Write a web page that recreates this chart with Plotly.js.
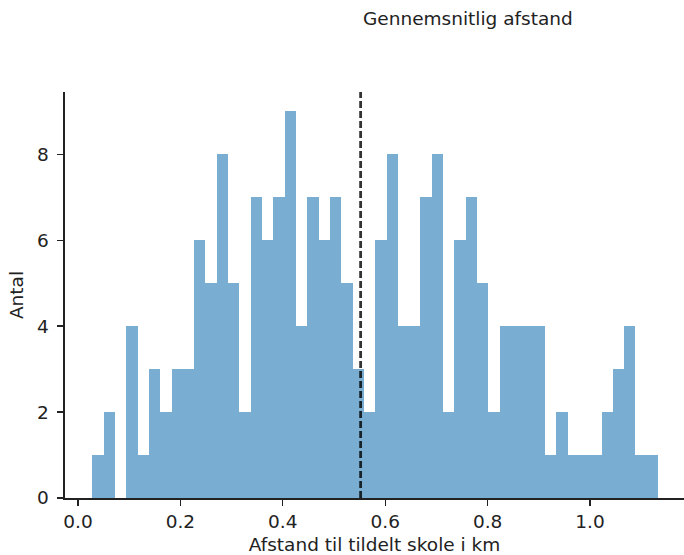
<!DOCTYPE html>
<html>
<head>
<meta charset="utf-8">
<script src="https://cdn.plot.ly/plotly-3.0.1.min.js"></script>
<style>html,body{margin:0;padding:0;background:#fff}#chart{width:684px;height:555px}</style>
</head>
<body>
<div id="chart"></div>
<script>
// Histogram counts (50 equal-width bins)
var counts = [1, 2, 0, 4, 1, 3, 2, 3, 3, 6,
              5, 8, 5, 2, 7, 6, 7, 9, 4, 7,
              6, 7, 5, 3, 2, 6, 8, 4, 4, 7,
              8, 2, 6, 7, 5, 2, 4, 4, 4, 4,
              1, 2, 1, 1, 1, 2, 3, 4, 1, 1];
var binStart = 0.028;      // km, left edge of first bin
var binWidth = 0.0221;     // km
var meanDistance = 0.552;  // km
var xTickVals = [0.0, 0.2, 0.4, 0.6, 0.8, 1.0];
var xTickText = ["0.0", "0.2", "0.4", "0.6", "0.8", "1.0"];
var yTickVals = [0, 2, 4, 6, 8];
var titleText = "Gennemsnitlig afstand";
var xLabel = "Afstand til tildelt skole i km";
var yLabel = "Antal";

var leftEdges = counts.map(function (c, i) { return binStart + i * binWidth; });

var font = {family: "DejaVu Sans, sans-serif", size: 18.5, color: "#222"};

var data = [{
  type: "bar",
  x: leftEdges,
  y: counts,
  width: binWidth,
  offset: 0,
  marker: {color: "rgba(31,119,180,0.6)", line: {width: 0}},
  hoverinfo: "x+y"
}];

var layout = {
  width: 684, height: 555,
  margin: {l: 65, r: 0, t: 92, b: 57, pad: 0},
  paper_bgcolor: "#fff", plot_bgcolor: "#fff",
  font: font,
  showlegend: false,
  bargap: 0,
  xaxis: {
    range: [-0.0254, 1.1836],
    tickvals: xTickVals, ticktext: xTickText,
    ticks: "outside", ticklen: 6, tickwidth: 1.3, tickcolor: "#222",
    showline: true, linecolor: "#222", linewidth: 1.6,
    showgrid: false, zeroline: false,
    ticklabelstandoff: 0,
    tickfont: font,
    title: {text: xLabel, font: font, standoff: 8}
  },
  yaxis: {
    range: [0, 9.45],
    tickvals: yTickVals,
    ticks: "outside", ticklen: 6, tickwidth: 1.3, tickcolor: "#222",
    showline: true, linecolor: "#222", linewidth: 1.6,
    showgrid: false, zeroline: false,
    ticklabelstandoff: 5,
    tickfont: font,
    title: {text: yLabel, font: font, standoff: 8}
  },
  shapes: [{
    type: "line", xref: "x", yref: "paper",
    x0: meanDistance, x1: meanDistance, y0: 0, y1: 1,
    line: {color: "rgba(0,0,0,0.8)", width: 2.8, dash: "7px,3px"}
  }],
  annotations: [{
    text: titleText, xref: "x", yref: "paper",
    x: meanDistance, y: 1.18, xanchor: "left", yanchor: "middle",
    showarrow: false, font: font, xshift: 0
  }]
};

Plotly.newPlot("chart", data, layout, {displayModeBar: false, staticPlot: true});
</script>
</body>
</html>
